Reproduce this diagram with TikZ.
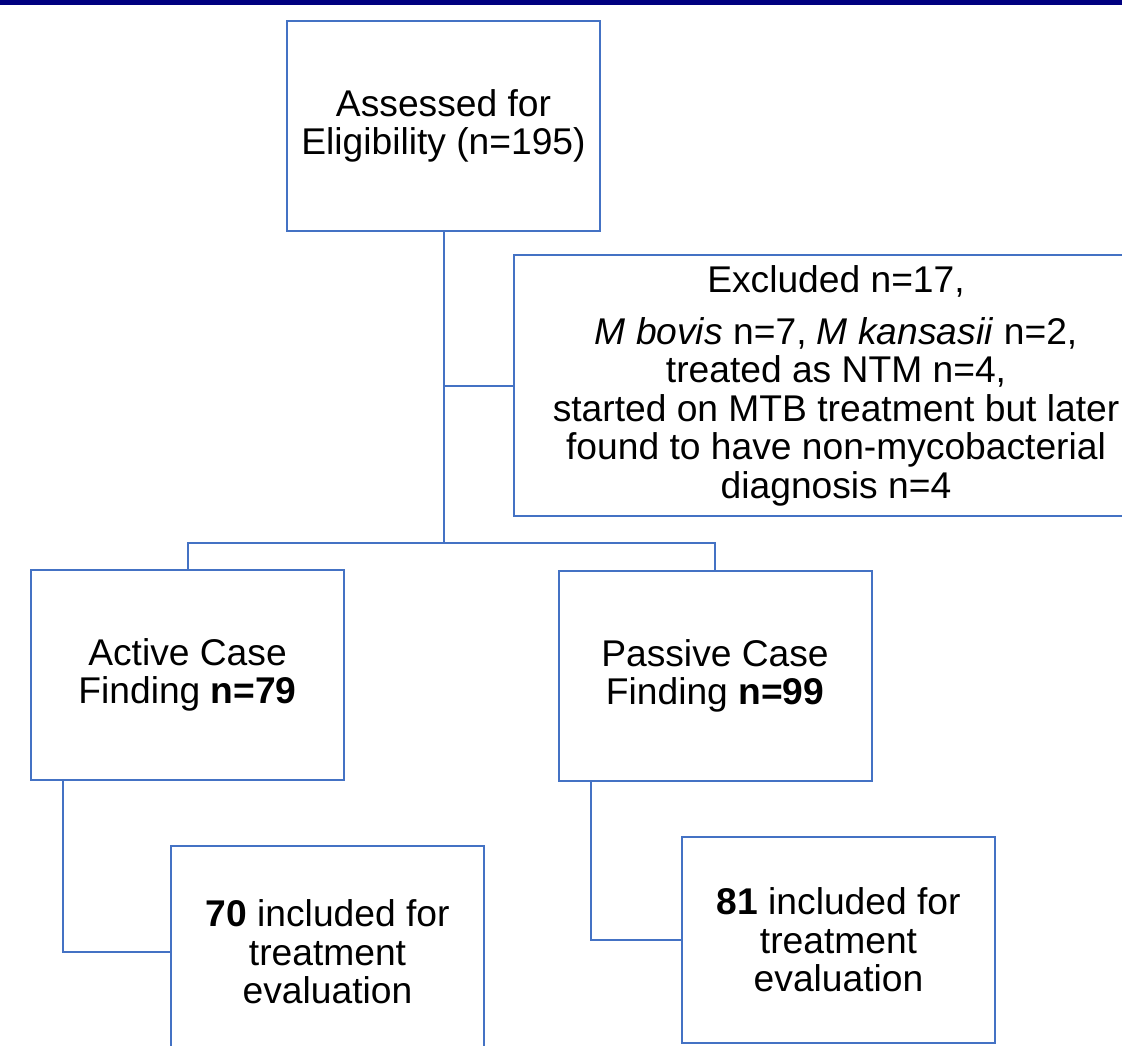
\documentclass[tikz,border=0pt]{standalone}
\usepackage{fontspec}
\setmainfont{Liberation Sans}
\usepackage{tikz}
\definecolor{FCNavy}{HTML}{000080}
\definecolor{FCBlue}{HTML}{4472C4}

\begin{document}
\begin{tikzpicture}[x=0.5pt,y=-0.5pt,
  box/.style={draw=FCBlue,line width=1pt,align=center,inner sep=0pt,
    minimum width=156.5pt,minimum height=105pt,
    font=\fontsize{18.6}{19.2}\selectfont},
  link/.style={FCBlue,line width=1pt}]
\path[use as bounding box] (0,0) rectangle (1122,1045);
\clip (0,0) rectangle (1122,1045);
\fill[white] (0,0) rectangle (1122,1045);
\fill[FCNavy] (0,0) rectangle (1122,5);
\node[box] (assessed) at (443.5,126) {Assessed for\\Eligibility (n=195)};
\node[box,minimum width=322pt,minimum height=130.5pt] (excluded) at (836,385.5)
  {Excluded n=17,\\[7pt] \textit{M bovis} n=7, \textit{M kansasii} n=2,\\treated as NTM n=4,\\started on MTB treatment but later\\found to have non-mycobacterial\\diagnosis n=4};
\node[box] (active) at (187.5,675) {Active Case\\Finding \textbf{n=79}};
\node[box] (passive) at (715,676) {Passive Case\\Finding \textbf{n=99}};
\node[box,minimum height=106pt] (incl70) at (327.5,952) {\textbf{70} included for\\treatment\\evaluation};
\node[box,minimum height=103pt] (incl81) at (838.5,940) {\textbf{81} included for\\treatment\\evaluation};
\coordinate (fork) at (443.5,543);
\coordinate (actfoot) at (63,780);
\coordinate (pasfoot) at (590.5,781);
\draw[link] (assessed.south) -- (fork);
\draw[link] (assessed.south |- excluded.west) -- (excluded.west);
\draw[link] (fork) -| (active.north);
\draw[link] (fork) -| (passive.north);
\draw[link] (actfoot) |- (incl70.west);
\draw[link] (pasfoot) |- (incl81.west);
\end{tikzpicture}
\end{document}
